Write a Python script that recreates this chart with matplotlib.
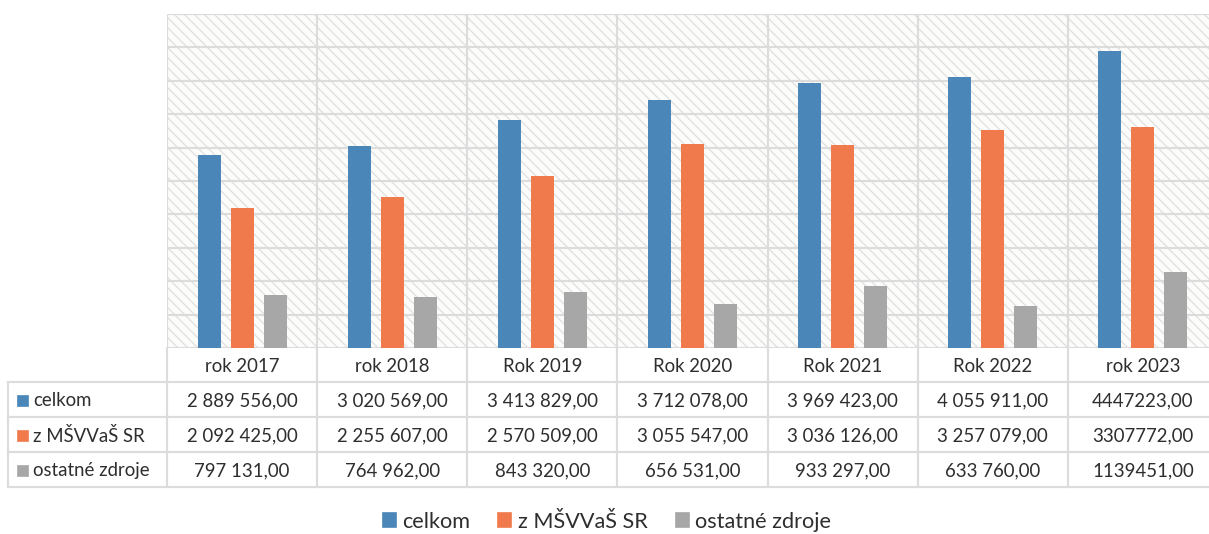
#!/usr/bin/env python3
"""Grouped bar chart with data table: funding per year (celkom / MŠVVaŠ SR / ostatné zdroje)."""

import matplotlib
matplotlib.use('Agg')
import matplotlib.pyplot as plt
from matplotlib.lines import Line2D
import numpy as np

years = ['rok 2017', 'rok 2018', 'Rok 2019', 'Rok 2020', 'Rok 2021', 'Rok 2022', 'rok 2023']
celkom = [2889556.00, 3020569.00, 3413829.00, 3712078.00, 3969423.00, 4055911.00, 4447223.00]
msvvas = [2092425.00, 2255607.00, 2570509.00, 3055547.00, 3036126.00, 3257079.00, 3307772.00]
ostatne = [797131.00, 764962.00, 843320.00, 656531.00, 933297.00, 633760.00, 1139451.00]
# the 2023 column is written without thousands separators in the source table
grouped = [True, True, True, True, True, True, False]

series_names = ['celkom', 'z MŠVVaŠ SR', 'ostatné zdroje']
colors = ['#4a87b8', '#f07a4c', '#a7a7a7']

W, H, DPI = 1209, 534, 120
plt.rcParams['font.family'] = ['Lato', 'DejaVu Sans']
plt.rcParams['hatch.linewidth'] = 0.8

GRID = '#dcdcdc'
TEXT = '#2e2e2e'


def fmt(v, group):
    s = f'{v:,.2f}'
    s = s.replace(',', ' ' if group else '').replace('.', ',')
    return s


fig = plt.figure(figsize=(W / DPI, H / DPI), dpi=DPI)

# plot area in pixels
px_left, px_top, px_bottom = 167, 14, 348
cat_w = 150.14
px_right = px_left + cat_w * len(years)

ax = fig.add_axes([px_left / W, 1 - px_bottom / H,
                   (px_right - px_left) / W, (px_bottom - px_top) / H])
ax.patch.set_visible(False)
# diagonal hatched background of the plot area
ax.add_patch(plt.Rectangle((0, 0), 1, 1, transform=ax.transAxes, facecolor='#fcfcfb',
                           edgecolor='#e0e0e0', linewidth=0, hatch='\\\\\\\\', zorder=0))

x = np.arange(len(years))
bw = 0.153
step = 0.22
for i, (vals, c) in enumerate(zip([celkom, msvvas, ostatne], colors)):
    ax.bar(x + (i - 1) * step, vals, width=bw, color=c, zorder=3, label=series_names[i])

ax.set_xlim(-0.5, len(years) - 0.5)
ax.set_ylim(0, 5000000)
ax.set_yticks(np.arange(0, 5000001, 500000))
ax.set_xticks(np.arange(-0.5, len(years), 1.0))
ax.tick_params(left=False, bottom=False, labelleft=False, labelbottom=False)
ax.grid(True, color=GRID, linewidth=1.3, zorder=1)
ax.set_axisbelow(False)
for s in ax.spines.values():
    s.set_visible(False)

# data table below the plot, y in pixels from top of the figure
tab_left = 8
rows_y = [382, 417, 452, 487]
tax = fig.add_axes([tab_left / W, 1 - rows_y[-1] / H,
                    (px_right - tab_left) / W, (rows_y[-1] - px_bottom) / H])
tax.set_xlim(-0.5 - (px_left - tab_left) / cat_w, len(years) - 0.5)
tax.set_ylim(rows_y[-1], px_bottom)
tax.axis('off')
x0 = tax.get_xlim()[0]

lw = 1.3
for yy in rows_y:
    tax.add_line(Line2D([x0, len(years) - 0.5], [yy, yy], color=GRID, lw=lw, clip_on=False))
tax.add_line(Line2D([x0, x0], [rows_y[0], rows_y[-1]], color=GRID, lw=lw, clip_on=False))
for b in np.arange(-0.5, len(years), 1.0):
    tax.add_line(Line2D([b, b], [px_bottom, rows_y[-1]], color=GRID, lw=lw, clip_on=False))

fs = 11.2
for j, yr in enumerate(years):
    tax.text(j, (px_bottom + rows_y[0]) / 2 + 1, yr, ha='center', va='center',
             fontsize=fs, color=TEXT)

sq_w = 10 / cat_w
for i, (name, vals, c) in enumerate(zip(series_names, [celkom, msvvas, ostatne], colors)):
    yc = (rows_y[i] + rows_y[i + 1]) / 2 + 1
    tax.add_patch(plt.Rectangle((x0 + 10 / cat_w, yc - 5), sq_w, 10, color=c, clip_on=False))
    tax.text(x0 + 25 / cat_w, yc, name, ha='left', va='center', fontsize=fs, color=TEXT)
    for j, v in enumerate(vals):
        tax.text(j, yc, fmt(v, grouped[j]), ha='center', va='center', fontsize=fs, color=TEXT)

handles = [plt.Rectangle((0, 0), 1, 1, color=c) for c in colors]
fig.legend(handles, series_names, loc='center', bbox_to_anchor=(607 / W, 1 - 522 / H),
           ncol=3, frameon=False, fontsize=13.0, handlelength=0.6, handleheight=0.6,
           handletextpad=0.3, columnspacing=1.3, labelcolor=TEXT)

fig.savefig('out.png', dpi=DPI)
